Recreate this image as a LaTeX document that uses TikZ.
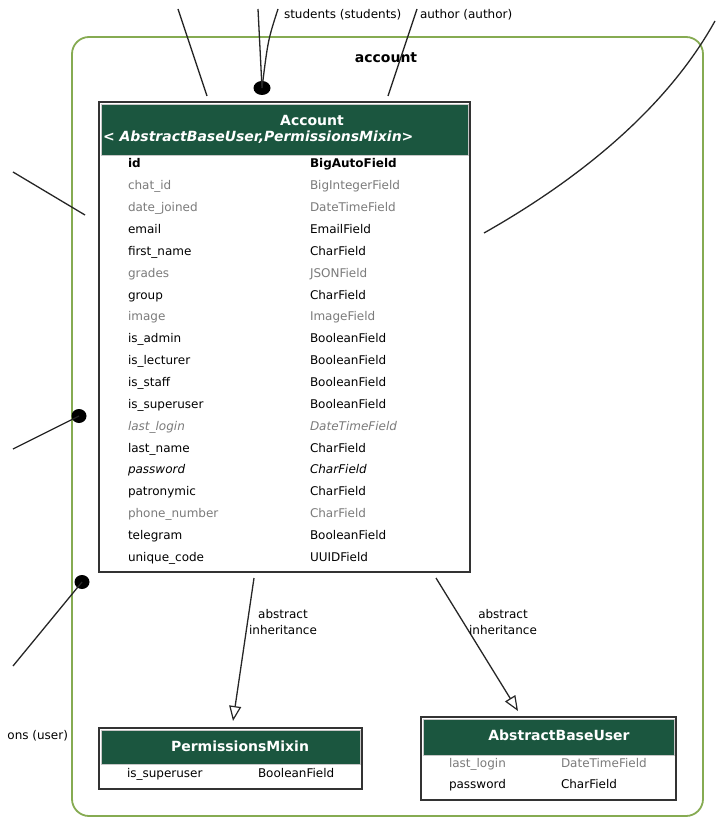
\documentclass[tikz,border=0pt]{standalone}
\usepackage{fontspec}
\setmainfont{DejaVu Sans}
\usetikzlibrary{arrows.meta,shapes.geometric}

\definecolor{hdrgreen}{HTML}{1B563F}
\definecolor{clustgreen}{HTML}{86AB52}
\definecolor{fieldgrey}{HTML}{7B7B7B}
\definecolor{boxline}{HTML}{333333}

% one field line of a model table: name, x of name, x of type, baseline y, style, field, type
\newcommand\fieldrow[7]{%
  \node[#5] (#1n) at (#2,#4) {#6};
  \node[#5] (#1t) at (#3,#4) {#7};}

\begin{document}
\begin{tikzpicture}[x=1pt,y=-1pt,
  every node/.style={inner sep=0pt, outer sep=0pt},
  clust/.style={draw=clustgreen, line width=1.8pt, rounded corners=17pt, anchor=north west},
  tbl/.style={draw=boxline, line width=1.6pt, fill=white, anchor=north west},
  hdr/.style={fill=hdrgreen, draw=black!22, line width=0.8pt, anchor=north west},
  htxt/.style={text=white, anchor=base, font=\fontsize{14}{16}\selectfont\bfseries},
  fld/.style={anchor=base west, font=\fontsize{12}{14}\selectfont},
  fldb/.style={fld, font=\fontsize{12}{14}\selectfont\bfseries},
  fldg/.style={fld, text=fieldgrey},
  fldi/.style={fld, font=\fontsize{12}{14}\selectfont\itshape},
  fldgi/.style={fldi, text=fieldgrey},
  lbl/.style={font=\fontsize{12}{16}\selectfont, align=center},
  conn/.style={draw=black!85, line width=1.3pt},
  inh/.style={conn, -{Triangle[open, length=15pt, width=12pt, line width=1.2pt]}},
  dot/.style={ellipse, fill=black, minimum width=#1, minimum height=14pt},
  dot/.default=15pt]

\useasboundingbox (0,0) rectangle (715,818);

% app cluster
\node[clust, minimum width=631pt, minimum height=779pt] (cl) at (72,37) {};
\node[font=\fontsize{14}{16}\selectfont\bfseries, anchor=base] (cllbl) at (386,63) {account};

% Account model
\node[tbl, minimum width=371pt, minimum height=470pt] (acc) at (99,102) {};
\node[hdr, minimum width=367pt, minimum height=51pt] (acch) at (101,104) {};
\node[htxt] (acct1) at (312,126) {Account};
\node[htxt, anchor=base west] (acct2) at (103,142) {\itshape < AbstractBaseUser,PermissionsMixin>};

\fieldrow{f0}{128}{310}{168.0}{fldb}{id}{BigAutoField}
\fieldrow{f1}{128}{310}{189.8}{fldg}{chat\_id}{BigIntegerField}
\fieldrow{f2}{128}{310}{211.7}{fldg}{date\_joined}{DateTimeField}
\fieldrow{f3}{128}{310}{233.5}{fld}{email}{EmailField}
\fieldrow{f4}{128}{310}{255.4}{fld}{first\_name}{CharField}
\fieldrow{f5}{128}{310}{277.2}{fldg}{grades}{JSONField}
\fieldrow{f6}{128}{310}{299.1}{fld}{group}{CharField}
\fieldrow{f7}{128}{310}{320.9}{fldg}{image}{ImageField}
\fieldrow{f8}{128}{310}{342.8}{fld}{is\_admin}{BooleanField}
\fieldrow{f9}{128}{310}{364.6}{fld}{is\_lecturer}{BooleanField}
\fieldrow{f10}{128}{310}{386.5}{fld}{is\_staff}{BooleanField}
\fieldrow{f11}{128}{310}{408.3}{fld}{is\_superuser}{BooleanField}
\fieldrow{f12}{128}{310}{430.2}{fldgi}{last\_login}{DateTimeField}
\fieldrow{f13}{128}{310}{452.0}{fld}{last\_name}{CharField}
\fieldrow{f14}{128}{310}{473.9}{fldi}{password}{CharField}
\fieldrow{f15}{128}{310}{495.7}{fld}{patronymic}{CharField}
\fieldrow{f16}{128}{310}{517.6}{fldg}{phone\_number}{CharField}
\fieldrow{f17}{128}{310}{539.4}{fld}{telegram}{BooleanField}
\fieldrow{f18}{128}{310}{561.3}{fld}{unique\_code}{UUIDField}

% PermissionsMixin model
\node[tbl, minimum width=263pt, minimum height=61pt] (pm) at (99,728) {};
\node[hdr, minimum width=259pt, minimum height=34pt] (pmh) at (101,730) {};
\node[htxt] (pmt) at (240,751) {PermissionsMixin};
\fieldrow{p0}{127}{258}{777}{fld}{is\_superuser}{BooleanField}

% AbstractBaseUser model
\node[tbl, minimum width=255pt, minimum height=83pt] (abu) at (421,717) {};
\node[hdr, minimum width=251pt, minimum height=36pt] (abuh) at (423,719) {};
\node[htxt] (abut) at (559,740) {AbstractBaseUser};
\fieldrow{b0}{449}{561}{767}{fldg}{last\_login}{DateTimeField}
\fieldrow{b1}{449}{561}{788}{fld}{password}{CharField}

% abstract inheritance edges
\coordinate (accL) at (254,578);
\coordinate (pmTop) at (233,721);
\coordinate (accR) at (436,578);
\coordinate (abuTop) at (518,711);
\draw[inh] (accL) -- (pmTop);
\draw[inh] (accR) -- (abuTop);
\node[lbl] (inh1) at (283,622) {abstract\\inheritance};
\node[lbl] (inh2) at (503,622) {abstract\\inheritance};

% relations reaching in from other apps
\coordinate (r1) at (178,9);
\coordinate (r1e) at (207,96);
\draw[conn] (r1) -- (r1e);

\node[dot=17pt] (d1) at (262,88) {};
\coordinate (r2) at (258,9);
\coordinate (r3) at (278,9);
\draw[conn] (r2) -- (d1.center);
\draw[conn] (r3) .. controls (268,40) .. (d1.center);
\node[fld] (stud) at (284,19) {students (students)};

\coordinate (r4) at (417,9);
\coordinate (r4e) at (388,96);
\draw[conn] (r4) -- (r4e);
\node[fld] (auth) at (420,19) {author (author)};

\coordinate (r5) at (715,21);
\coordinate (r5e) at (484,233);
\draw[conn] (r5e) .. controls (560,190) and (660,120) .. (r5);

\coordinate (r6) at (13,172);
\coordinate (r6e) at (85,215);
\draw[conn] (r6) -- (r6e);

\node[dot] (d2) at (79,416) {};
\coordinate (r7) at (13,449);
\draw[conn] (r7) -- (d2.center);

\node[dot] (d3) at (82,582) {};
\coordinate (r8) at (13,666);
\draw[conn] (r8) -- (d3.center);

\node[fld, anchor=base east] (perm) at (68,739) {ons (user)};

\end{tikzpicture}
\end{document}
